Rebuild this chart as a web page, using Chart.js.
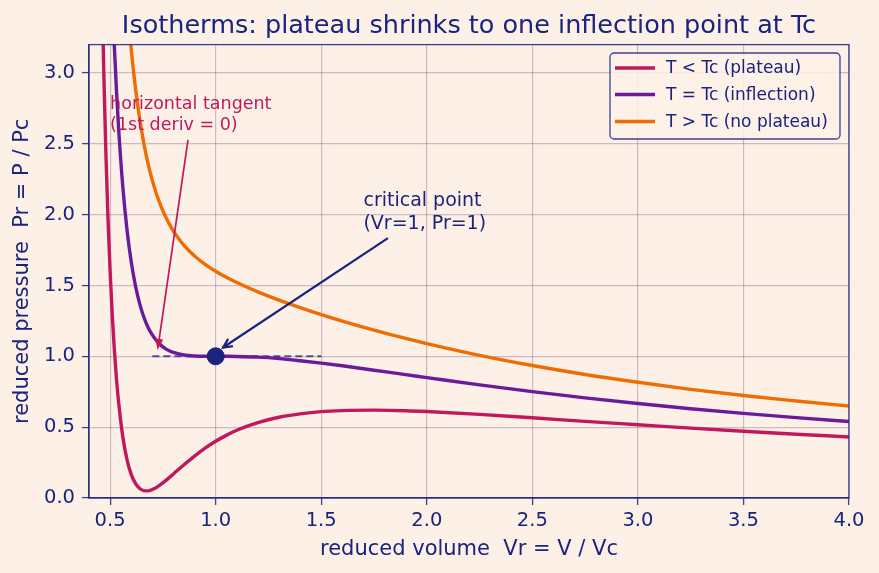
<!DOCTYPE html>
<html>
<head>
<meta charset="utf-8">
<script src="https://cdn.jsdelivr.net/npm/chart.js@4.4.1/dist/chart.umd.min.js"></script>
<style>
  html, body { margin: 0; padding: 0; background: #fdf1e7; }
  #wrap { width: 879px; height: 573px; }
</style>
</head>
<body>
<div id="wrap"><canvas id="c" width="879" height="573"></canvas></div>
<script>
// ---- data ----
const volumes = [0.45,0.46,0.47,0.48,0.49,0.50,0.51,0.52,0.53,0.54,0.56,0.58,0.60,0.62,0.64,0.66,0.68,0.70,0.72,0.74,0.76,0.78,0.80,0.85,0.90,0.95,1.00,1.05,1.10,1.20,1.30,1.40,1.50,1.60,1.75,1.90,2.00,2.25,2.50,2.75,3.00,3.25,3.50,3.75,4.00];
const pressureBelow = [4.614,3.717,3.004,2.434,1.973,1.600,1.296,1.048,0.845,0.680,0.434,0.271,0.167,0.103,0.067,0.052,0.050,0.060,0.075,0.096,0.119,0.144,0.170,0.235,0.296,0.352,0.400,0.442,0.478,0.532,0.570,0.594,0.610,0.617,0.620,0.616,0.610,0.590,0.566,0.541,0.517,0.493,0.471,0.450,0.431];
const pressureCritical = [8.042,6.875,5.931,5.161,4.526,4.000,3.560,3.191,2.879,2.615,2.199,1.893,1.667,1.498,1.372,1.276,1.204,1.151,1.110,1.079,1.056,1.039,1.027,1.009,1.002,1.000,1.000,1.000,0.999,0.994,0.984,0.969,0.952,0.933,0.902,0.871,0.850,0.798,0.751,0.707,0.667,0.630,0.597,0.567,0.540];
const pressureAbove = [11.471,10.033,8.858,7.888,7.079,6.400,5.824,5.334,4.913,4.551,3.963,3.514,3.167,2.894,2.676,2.501,2.358,2.242,2.144,2.063,1.994,1.935,1.884,1.783,1.708,1.649,1.600,1.558,1.521,1.455,1.397,1.344,1.295,1.249,1.185,1.126,1.090,1.007,0.935,0.872,0.817,0.767,0.723,0.685,0.649];
const seriesLabels = ['T < Tc (plateau)', 'T = Tc (inflection)', 'T > Tc (no plateau)'];
const criticalV = [1.0];
const criticalP = [1.0];
const tangentV = [0.7, 1.5];
const tangentP = [1.0, 1.0];
const xTicks = [0.5,1.0,1.5,2.0,2.5,3.0,3.5,4.0];
const yTicks = [0.0,0.5,1.0,1.5,2.0,2.5,3.0];

const NAVY = '#1a237e';
const RED = '#c2185b';
const PURPLE = '#6a1b9a';
const ORANGE = '#ef6c00';
const BG = '#fdf1e7';
const GRID = 'rgba(90,40,110,0.28)';
const FONT = "'DejaVu Sans', sans-serif";

const pts = (xs, ys) => xs.map((x, i) => ({x: x, y: ys[i]}));

const frame = {
  id: 'frame',
  beforeDraw(chart) {
    const ctx = chart.ctx;
    ctx.save();
    ctx.fillStyle = BG;
    ctx.fillRect(0, 0, chart.width, chart.height);
    ctx.restore();
  },
  afterDatasetsDraw(chart) {
    const {ctx, chartArea: a, scales} = chart;
    const X = v => scales.x.getPixelForValue(v);
    const Y = v => scales.y.getPixelForValue(v);
    ctx.save();
    // border
    ctx.strokeStyle = 'rgba(26,35,126,0.85)';
    ctx.lineWidth = 1.3;
    ctx.strokeRect(a.left, a.top, a.right - a.left, a.bottom - a.top);

    // annotation texts
    ctx.textAlign = 'left';
    ctx.textBaseline = 'alphabetic';
    ctx.fillStyle = RED;
    ctx.font = '17.5px ' + FONT;
    ctx.fillText('horizontal tangent', X(0.5), Y(2.6) - 21);
    ctx.fillText('(1st deriv = 0)', X(0.5), Y(2.6));

    ctx.fillStyle = NAVY;
    ctx.font = '19px ' + FONT;
    ctx.fillText('critical point', X(1.7), Y(1.9) - 22.5);
    ctx.fillText('(Vr=1, Pr=1)', X(1.7), Y(1.9));

    // red arrow (filled head)
    let x0 = X(0.869), y0 = Y(2.528), x1 = X(0.725), y1 = Y(1.045);
    let ang = Math.atan2(y1 - y0, x1 - x0);
    ctx.strokeStyle = RED; ctx.fillStyle = RED; ctx.lineWidth = 1.7;
    ctx.beginPath(); ctx.moveTo(x0, y0); ctx.lineTo(x1 - 8 * Math.cos(ang), y1 - 8 * Math.sin(ang)); ctx.stroke();
    ctx.beginPath();
    ctx.moveTo(x1, y1);
    ctx.lineTo(x1 - 11 * Math.cos(ang) + 4 * Math.sin(ang), y1 - 11 * Math.sin(ang) - 4 * Math.cos(ang));
    ctx.lineTo(x1 - 11 * Math.cos(ang) - 4 * Math.sin(ang), y1 - 11 * Math.sin(ang) + 4 * Math.cos(ang));
    ctx.closePath(); ctx.fill();

    // navy arrow (open head)
    x0 = X(1.816); y0 = Y(1.834); x1 = X(1.035); y1 = Y(1.062);
    ang = Math.atan2(y1 - y0, x1 - x0);
    ctx.strokeStyle = NAVY; ctx.lineWidth = 2.2;
    ctx.beginPath(); ctx.moveTo(x0, y0); ctx.lineTo(x1, y1); ctx.stroke();
    ctx.beginPath();
    ctx.moveTo(x1 - 10 * Math.cos(ang - 0.45), y1 - 10 * Math.sin(ang - 0.45));
    ctx.lineTo(x1, y1);
    ctx.lineTo(x1 - 10 * Math.cos(ang + 0.45), y1 - 10 * Math.sin(ang + 0.45));
    ctx.stroke();

    // legend
    const lx = 610, ly = 53, lw = 230, lh = 86;
    ctx.fillStyle = 'rgba(253,241,231,0.85)';
    ctx.strokeStyle = 'rgba(26,35,126,0.85)';
    ctx.lineWidth = 1.3;
    ctx.beginPath();
    if (ctx.roundRect) ctx.roundRect(lx, ly, lw, lh, 4); else ctx.rect(lx, ly, lw, lh);
    ctx.fill(); ctx.stroke();
    const cols = [RED, PURPLE, ORANGE];
    const rows = [68, 94.5, 121.5];
    ctx.font = '17px ' + FONT;
    ctx.textBaseline = 'middle';
    seriesLabels.forEach((lab, i) => {
      ctx.strokeStyle = cols[i]; ctx.lineWidth = 3.5;
      ctx.beginPath(); ctx.moveTo(615, rows[i]); ctx.lineTo(655, rows[i]); ctx.stroke();
      ctx.fillStyle = NAVY;
      ctx.fillText(lab, 666, rows[i] + 1);
    });
    ctx.restore();
  }
};

const lineDs = (label, ys, color, order) => ({
  label, data: pts(volumes, ys), borderColor: color, backgroundColor: color,
  borderWidth: 3.4, pointRadius: 0, cubicInterpolationMode: 'monotone', fill: false, order
});

new Chart(document.getElementById('c'), {
  type: 'line',
  data: {
    datasets: [
      { label: 'critical point', data: pts(criticalV, criticalP), showLine: false,
        pointRadius: 8.5, pointBackgroundColor: NAVY, pointBorderColor: NAVY, order: 0 },
      lineDs(seriesLabels[2], pressureAbove, ORANGE, 1),
      lineDs(seriesLabels[1], pressureCritical, PURPLE, 2),
      lineDs(seriesLabels[0], pressureBelow, RED, 3),
      { label: 'tangent', data: pts(tangentV, tangentP), borderColor: 'rgba(26,35,126,0.75)',
        borderDash: [7, 4], borderWidth: 1.9, pointRadius: 0, order: 4 }
    ]
  },
  options: {
    responsive: false,
    animation: false,
    events: [],
    layout: { padding: { left: 0, right: 30, top: 0, bottom: 0 } },
    plugins: {
      legend: { display: false },
      tooltip: { enabled: false },
      title: {
        display: true,
        fullSize: false,
        text: 'Isotherms: plateau shrinks to one inflection point at Tc',
        color: NAVY,
        font: { family: FONT, size: 25.5, weight: 'normal' },
        padding: { top: 11, bottom: 3 }
      }
    },
    scales: {
      x: {
        type: 'linear', min: 0.4, max: 4.0,
        afterFit: s => { s.height = 75; },
        afterBuildTicks: s => { s.ticks = xTicks.map(v => ({ value: v })); },
        grid: { color: GRID, lineWidth: 1.2, tickLength: 7, tickColor: 'rgba(26,35,126,0.85)', tickWidth: 1.3 },
        border: { color: 'rgba(26,35,126,0.85)', width: 1.3 },
        ticks: { color: NAVY, font: { family: FONT, size: 19.5 }, padding: 4, maxRotation: 0,
                 callback: v => Number(v).toFixed(1) },
        title: { display: true, text: 'reduced volume  Vr = V / Vc', color: NAVY,
                 font: { family: FONT, size: 21 }, padding: { top: 0, bottom: 11 } }
      },
      y: {
        type: 'linear', min: 0, max: 3.2,
        afterFit: s => { s.width = 89; },
        afterBuildTicks: s => { s.ticks = yTicks.map(v => ({ value: v })); },
        grid: { color: GRID, lineWidth: 1.2, tickLength: 7, tickColor: 'rgba(26,35,126,0.85)', tickWidth: 1.3 },
        border: { color: 'rgba(26,35,126,0.85)', width: 1.3 },
        ticks: { color: NAVY, font: { family: FONT, size: 19.5 }, padding: 7,
                 callback: v => Number(v).toFixed(1) },
        title: { display: true, text: 'reduced pressure  Pr = P / Pc', color: NAVY,
                 font: { family: FONT, size: 21 }, padding: { top: 10, bottom: 0 } }
      }
    }
  },
  plugins: [frame]
});
</script>
</body>
</html>
